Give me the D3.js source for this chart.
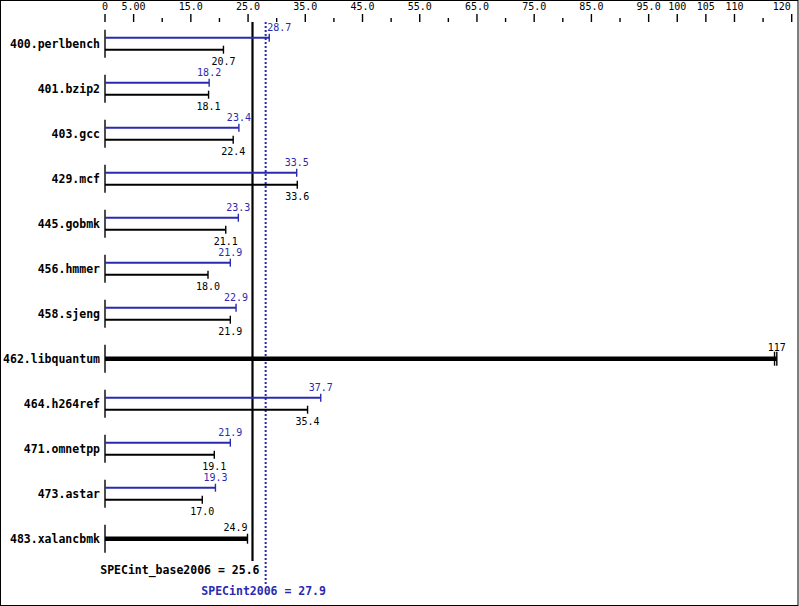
<!DOCTYPE html>
<html>
<head>
<meta charset="utf-8">
<script src="https://cdn.jsdelivr.net/npm/d3@7"></script>
<style>
body { margin: 0; background: #fff; }
svg { display: block; }
</style>
</head>
<body>
<script>
var benchmarks = ["400.perlbench", "401.bzip2", "403.gcc", "429.mcf", "445.gobmk", "456.hmmer",
    "458.sjeng", "462.libquantum", "464.h264ref", "471.omnetpp", "473.astar", "483.xalancbmk"];
var baseScores = [20.7, 18.1, 22.4, 33.6, 21.1, 18.0, 21.9, 117.0, 35.4, 19.1, 17.0, 24.9];
var peakScores = [28.7, 18.2, 23.4, 33.5, 23.3, 21.9, 22.9, 117.4, 37.7, 21.9, 19.3, 24.9];
var labeledTicks = [0, 5, 15, 25, 35, 45, 55, 65, 75, 85, 95, 100, 105, 110, 120];
var minorTicks = [10, 20, 30, 40, 50, 60, 70, 80, 90, 115];
var baseMean = 25.6;
var peakMean = 27.9;

var width = 799, height = 606;
var blue = "#2a2ab0";
var mono = "'DejaVu Sans Mono', 'Liberation Mono', monospace";

var svg = d3.select("body").append("svg")
    .attr("width", width)
    .attr("height", height);

svg.append("rect")
    .attr("x", 0.5).attr("y", 0.5)
    .attr("width", width - 1.5).attr("height", height - 1)
    .attr("fill", "white").attr("stroke", "black");

var x = d3.scaleLinear().domain([0, 120]).range([105, 791.7]);
var y = d3.scalePoint().domain(benchmarks).range([43.7, 538.7]);

function fmtTick(v) {
    if (v == 0) return "0";
    return d3.format(".3r")(v);
}
function fmtVal(v) {
    return v >= 100 ? d3.format(".0f")(Math.floor(v)) : d3.format(".1f")(v);
}

// top axis
var axis = svg.append("g").attr("class", "axis");
axis.selectAll(".major")
    .data(labeledTicks)
    .enter().append("line")
    .attr("x1", d => x(d)).attr("x2", d => x(d))
    .attr("y1", 14).attr("y2", 22)
    .attr("stroke", "black").attr("stroke-width", 1.4);
axis.selectAll(".minor")
    .data(minorTicks)
    .enter().append("line")
    .attr("x1", d => x(d)).attr("x2", d => x(d))
    .attr("y1", 18).attr("y2", 22)
    .attr("stroke", "black").attr("stroke-width", 1.4);
var last = labeledTicks[labeledTicks.length - 1];
axis.selectAll("text")
    .data(labeledTicks)
    .enter().append("text")
    .attr("x", d => d == last ? x(d) - 1 : x(d)).attr("y", 10)
    .attr("text-anchor", d => d == last ? "end" : "middle")
    .attr("font-family", mono).attr("font-size", 10)
    .text(fmtTick);

// mean lines
var bx = x(baseMean) + 1, px = x(peakMean) + 1;
svg.append("line")
    .attr("x1", bx).attr("x2", bx).attr("y1", 22).attr("y2", 561)
    .attr("stroke", "black").attr("stroke-width", 2.2);
svg.append("line")
    .attr("x1", px).attr("x2", px).attr("y1", 22).attr("y2", 584)
    .attr("stroke", blue).attr("stroke-width", 2).attr("stroke-dasharray", "2,2");

svg.append("text")
    .attr("x", bx + 7).attr("y", 574)
    .attr("text-anchor", "end")
    .attr("font-family", mono).attr("font-size", 11.5).attr("font-weight", "bold")
    .text("SPECint_base2006 = " + baseMean.toFixed(1));
svg.append("text")
    .attr("x", px - 2).attr("y", 595)
    .attr("text-anchor", "middle")
    .attr("font-family", mono).attr("font-size", 11.5).attr("font-weight", "bold")
    .attr("fill", blue)
    .text("SPECint2006 = " + peakMean.toFixed(1));

// pick a label position that keeps the text off the mean lines
function labelPos(end, text) {
    var w = text.length * 6.02;
    var cands = [
        { x: end, anchor: "middle", left: end - w / 2, right: end + w / 2 },
        { x: end, anchor: "end", left: end - w, right: end },
        { x: end - 2, anchor: "start", left: end - 2, right: end - 2 + w }
    ];
    for (var i = 0; i < cands.length; i++) {
        var c = cands[i];
        var hit = (bx >= c.left - 1 && bx <= c.right + 1) || (px >= c.left - 1 && px <= c.right + 1);
        if (!hit) return c;
    }
    return cands[0];
}

var rows = svg.selectAll(".row")
    .data(benchmarks)
    .enter().append("g")
    .attr("class", "row")
    .attr("transform", d => "translate(0," + y(d) + ")");

rows.append("text")
    .attr("x", 100).attr("y", 0)
    .attr("dy", "0.35em")
    .attr("text-anchor", "end")
    .attr("font-family", mono).attr("font-size", 11.5).attr("font-weight", "bold")
    .text(d => d);

rows.append("line")
    .attr("x1", x(0)).attr("x2", x(0)).attr("y1", -14).attr("y2", 14)
    .attr("stroke", "black").attr("stroke-width", 1.4);

rows.each(function (d, i) {
    var g = d3.select(this);
    var b = baseScores[i], p = peakScores[i];
    var same = fmtVal(b) == fmtVal(p);
    if (same) {
        var m = Math.max(b, p);
        g.append("line")
            .attr("x1", x(0)).attr("x2", x(m)).attr("y1", 0).attr("y2", 0)
            .attr("stroke", "black").attr("stroke-width", 4.5);
        var caps = b == p ? [b] : [b, p];
        var ch = caps.length > 1 ? 7 : 5;
        g.selectAll(".cap").data(caps).enter().append("line")
            .attr("x1", v => x(v)).attr("x2", v => x(v))
            .attr("y1", -ch).attr("y2", ch)
            .attr("stroke", "black").attr("stroke-width", 1.4);
        var t = fmtVal(b);
        var lp = labelPos(x(m), t);
        g.append("text")
            .attr("x", lp.x).attr("y", -8)
            .attr("text-anchor", lp.anchor)
            .attr("font-family", mono).attr("font-size", 10)
            .text(t);
    } else {
        [[p, -6, blue, -12.5], [b, 6, "black", 21]].forEach(function (s) {
            g.append("line")
                .attr("x1", x(0)).attr("x2", x(s[0])).attr("y1", s[1]).attr("y2", s[1])
                .attr("stroke", s[2]).attr("stroke-width", 2);
            g.append("line")
                .attr("x1", x(s[0])).attr("x2", x(s[0])).attr("y1", s[1] - 4).attr("y2", s[1] + 4)
                .attr("stroke", s[2]).attr("stroke-width", 1.4);
            var t = fmtVal(s[0]);
            var lp = labelPos(x(s[0]), t);
            g.append("text")
                .attr("x", lp.x).attr("y", s[3])
                .attr("text-anchor", lp.anchor)
                .attr("font-family", mono).attr("font-size", 10)
                .attr("fill", s[2])
                .text(t);
        });
    }
});
</script>
</body>
</html>
